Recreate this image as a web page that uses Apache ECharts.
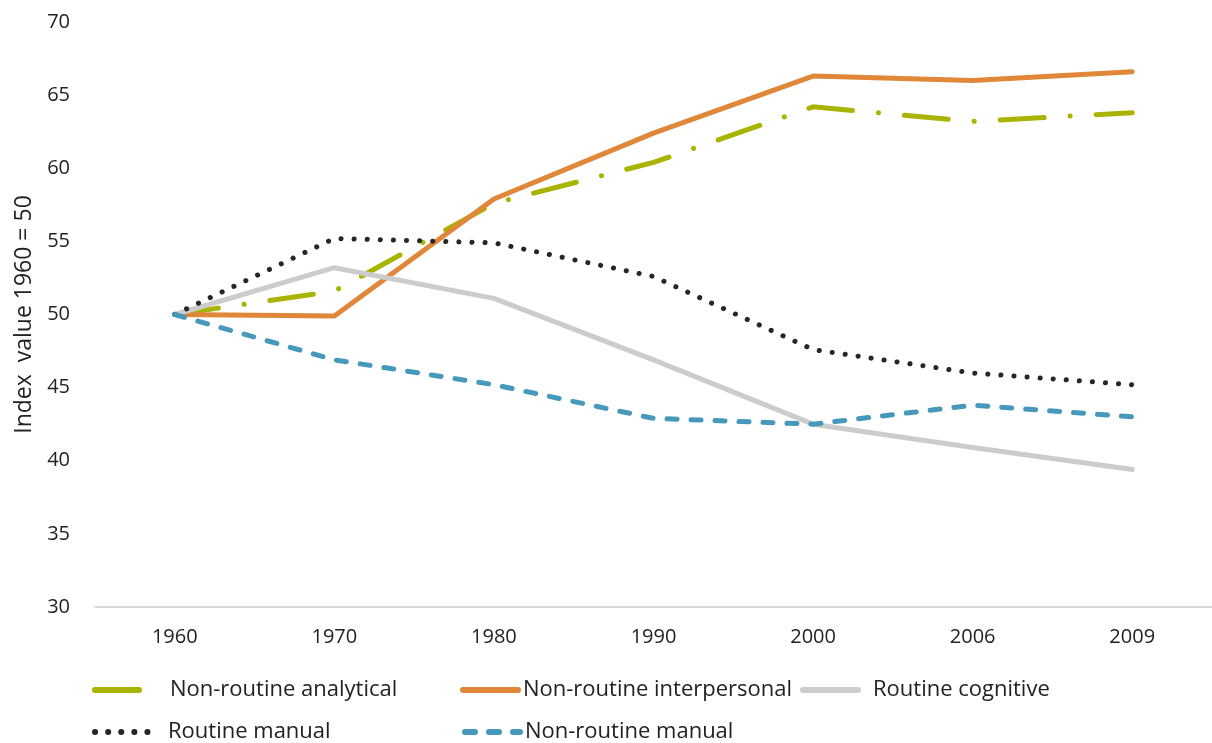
<!DOCTYPE html>
<html>
<head>
<meta charset="utf-8">
<script src="https://cdn.jsdelivr.net/npm/echarts@6/dist/echarts.min.js"></script>
<style>
  html, body { margin: 0; padding: 0; background: #fff; }
  #chart { width: 1212px; height: 743px; }
</style>
</head>
<body>
<div id="chart"></div>
<script>
// categories (years)
const years = ['1960', '1970', '1980', '1990', '2000', '2006', '2009']

// index values, 1960 = 50
const nonRoutineAnalytical = [50, 51.6, 57.6, 60.4, 64.2, 63.2, 63.8]
const nonRoutineInterpersonal = [50, 49.9, 57.9, 62.4, 66.3, 66.0, 66.6]
const routineCognitive = [50, 53.2, 51.1, 46.9, 42.5, 40.9, 39.4]
const routineManual = [50, 55.2, 54.9, 52.6, 47.6, 46.0, 45.2]
const nonRoutineManual = [50, 46.9, 45.2, 42.9, 42.5, 43.8, 43.0]

const font = 'Open Sans'
const textColor = '#222'

const chart = echarts.init(document.getElementById('chart'))

function legendAt(name, left, top, pad) {
  return {
    data: [name],
    left: left,
    top: top,
    itemWidth: 55,
    itemHeight: 6,
    padding: 0,
    itemStyle: { opacity: 0 },
    lineStyle: { width: 6, cap: 'round' },
    textStyle: {
      fontFamily: font,
      fontSize: 22,
      color: textColor,
      padding: [0, 0, 0, pad]
    }
  }
}

function lineSeries(name, data, color, type, width) {
  return {
    name: name,
    type: 'line',
    data: data,
    showSymbol: false,
    symbol: 'none',
    smooth: false,
    itemStyle: { color: color },
    lineStyle: {
      color: color,
      width: width,
      type: type,
      cap: 'round',
      join: 'round'
    },
    emphasis: { disabled: true }
  }
}

chart.setOption({
  animation: false,
  grid: {
    left: 95,
    right: 0,
    top: 22,
    bottom: 136,
    containLabel: false
  },
  legend: [
    legendAt('Non-routine analytical', 92, 679, 15),
    legendAt('Non-routine interpersonal', 460, 679, 0),
    legendAt('Routine cognitive', 800, 679, 10),
    legendAt('Routine manual', 92, 721, 13),
    legendAt('Non-routine manual', 462, 721, 0)
  ],
  xAxis: {
    type: 'category',
    data: years,
    boundaryGap: true,
    axisLine: { show: true, lineStyle: { color: '#d9d9d9', width: 2 } },
    axisTick: { show: false },
    axisLabel: {
      fontFamily: font,
      fontSize: 20,
      color: textColor,
      margin: 20
    }
  },
  yAxis: {
    type: 'value',
    min: 30,
    max: 70,
    interval: 5,
    name: 'Index  value 1960 = 50',
    nameLocation: 'middle',
    nameGap: 57,
    nameRotate: 90,
    nameTextStyle: {
      fontFamily: font,
      fontSize: 23,
      color: textColor
    },
    axisLine: { show: false },
    axisTick: { show: false },
    splitLine: { show: false },
    axisLabel: {
      fontFamily: font,
      fontSize: 20,
      color: textColor,
      margin: 25
    }
  },
  series: [
    lineSeries('Non-routine analytical', nonRoutineAnalytical, '#a8b400', [44, 26, 0.1, 26], 5),
    lineSeries('Non-routine interpersonal', nonRoutineInterpersonal, '#e0873a', 'solid', 5),
    lineSeries('Routine cognitive', routineCognitive, '#cccccc', 'solid', 5),
    lineSeries('Routine manual', routineManual, '#262626', [0.1, 13], 5),
    lineSeries('Non-routine manual', nonRoutineManual, '#4699ba', [10, 14], 5)
  ]
})
</script>
</body>
</html>
